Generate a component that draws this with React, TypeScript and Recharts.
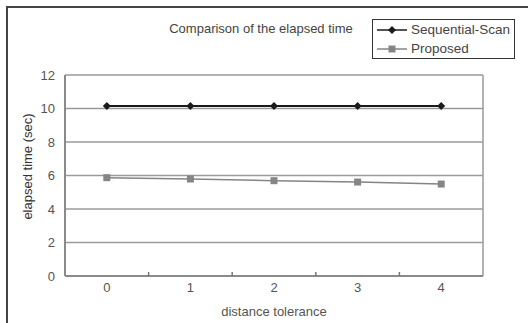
import React from "react";
import {
  LineChart,
  Line,
  XAxis,
  YAxis,
  CartesianGrid,
  ReferenceLine,
  Legend,
  Label,
} from "recharts";

const distances = [0, 1, 2, 3, 4];
const sequentialScan = [10.15, 10.15, 10.15, 10.15, 10.15];
const proposed = [5.87, 5.79, 5.69, 5.61, 5.49];
const yTicks = [0, 2, 4, 6, 8, 10, 12];
const xTicks = [0, 0.5, 1, 1.5, 2, 2.5, 3, 3.5, 4];

const data = distances.map((d, i) => ({
  distance: d,
  seq: sequentialScan[i],
  proposed: proposed[i],
}));

const FONT = "'Liberation Sans', Arial, sans-serif";
const SEQ_COLOR = "#1a1a1a";
const PROP_COLOR = "#858585";

const Diamond = (props: any) => {
  const { cx, cy } = props;
  if (cx == null || cy == null) return null;
  return (
    <path
      d={`M${cx},${cy - 4}L${cx + 4},${cy}L${cx},${cy + 4}L${cx - 4},${cy}Z`}
      fill={SEQ_COLOR}
    />
  );
};

const Square = (props: any) => {
  const { cx, cy } = props;
  if (cx == null || cy == null) return null;
  return <rect x={cx - 3.5} y={cy - 3.5} width={7} height={7} fill={PROP_COLOR} />;
};

const TICK_MARGIN = 7;

const XTick = (props: any) => {
  const { x, y, payload } = props;
  const v = payload.value;
  if (Number.isInteger(v)) {
    return (
      <text
        x={x}
        y={y}
        dy="0.71em"
        textAnchor="middle"
        fill="#555"
        fontSize={13}
        fontFamily={FONT}
      >
        {v}
      </text>
    );
  }
  const axisY = y - TICK_MARGIN;
  return <line x1={x} x2={x} y1={axisY} y2={axisY - 4} stroke="#777" strokeWidth={1.5} />;
};

const LegendBox = () => (
  <div
    style={{
      border: "1px solid #333",
      width: 141,
      height: 38,
      background: "#fff",
      fontFamily: FONT,
      fontSize: 13.5,
      color: "#444",
      boxSizing: "content-box",
    }}
  >
    <div style={{ display: "flex", alignItems: "center", height: 19, paddingLeft: 4 }}>
      <svg width={32} height={10} style={{ marginRight: 2 }}>
        <line x1={0} x2={30} y1={5} y2={5} stroke={SEQ_COLOR} strokeWidth={1.5} />
        <path d="M15,1L19,5L15,9L11,5Z" fill={SEQ_COLOR} />
      </svg>
      <span>Sequential-Scan</span>
    </div>
    <div style={{ display: "flex", alignItems: "center", height: 19, paddingLeft: 4 }}>
      <svg width={32} height={10} style={{ marginRight: 2 }}>
        <line x1={0} x2={30} y1={5} y2={5} stroke={PROP_COLOR} strokeWidth={1.5} />
        <rect x={11.5} y={1.5} width={7} height={7} fill={PROP_COLOR} />
      </svg>
      <span>Proposed</span>
    </div>
  </div>
);

const YLabel = (props: any) => {
  const vb = props.viewBox;
  const x = vb.x + 19;
  const y = vb.y + vb.height / 2 - 9;
  return (
    <text
      x={x}
      y={y}
      transform={`rotate(-90, ${x}, ${y})`}
      textAnchor="middle"
      dominantBaseline="central"
      fill="#333"
      fontSize={13}
      fontFamily={FONT}
    >
      elapsed time (sec)
    </text>
  );
};

export default function App() {
  return (
    <div
      style={{
        position: "absolute",
        left: 0,
        top: 0,
        width: 528,
        height: 323,
        overflow: "hidden",
        background: "#fff",
      }}
    >
      <div
        style={{
          position: "absolute",
          left: 6,
          top: 6,
          width: 560,
          height: 360,
          border: "2px solid #444",
        }}
      />
      <div
        style={{
          position: "absolute",
          left: 161,
          top: 21,
          width: 200,
          textAlign: "center",
          fontFamily: FONT,
          fontSize: 13,
          color: "#444",
          whiteSpace: "nowrap",
        }}
      >
        Comparison of the elapsed time
      </div>
      <LineChart
        width={528}
        height={323}
        data={data}
        margin={{ top: 75, right: 45, left: 8, bottom: 7 }}
        style={{ position: "absolute", left: 0, top: 0 }}
      >
        <CartesianGrid vertical={false} stroke="#9a9a9a" strokeWidth={1.5} />
        <ReferenceLine x={4.5} stroke="#9a9a9a" strokeWidth={1.5} />
        <XAxis
          dataKey="distance"
          type="number"
          domain={[-0.5, 4.5]}
          ticks={xTicks}
          interval={0}
          height={40}
          tickLine={false}
          tickSize={0}
          tickMargin={TICK_MARGIN}
          tick={<XTick />}
          axisLine={{ stroke: "#8a8a8a", strokeWidth: 2 }}
        >
          <Label
            value="distance tolerance"
            position="insideBottom"
            offset={0}
            fill="#555"
            fontSize={13}
            fontFamily={FONT}
          />
        </XAxis>
        <YAxis
          domain={[0, 12]}
          ticks={yTicks}
          width={57}
          tickLine={false}
          tickSize={0}
          tickMargin={10}
          axisLine={{ stroke: "#8a8a8a", strokeWidth: 2 }}
          tick={{ fill: "#555", fontSize: 13, fontFamily: FONT }}
        >
          <Label content={<YLabel />} />
        </YAxis>
        <Legend
          layout="vertical"
          align="center"
          verticalAlign="middle"
          content={<LegendBox />}
          wrapperStyle={{ top: 19, left: 372, width: 143, height: 40 }}
        />
        <Line
          dataKey="seq"
          name="Sequential-Scan"
          stroke={SEQ_COLOR}
          strokeWidth={2}
          dot={<Diamond />}
          activeDot={false}
          isAnimationActive={false}
        />
        <Line
          dataKey="proposed"
          name="Proposed"
          stroke={PROP_COLOR}
          strokeWidth={1.5}
          dot={<Square />}
          activeDot={false}
          isAnimationActive={false}
        />
      </LineChart>
    </div>
  );
}
